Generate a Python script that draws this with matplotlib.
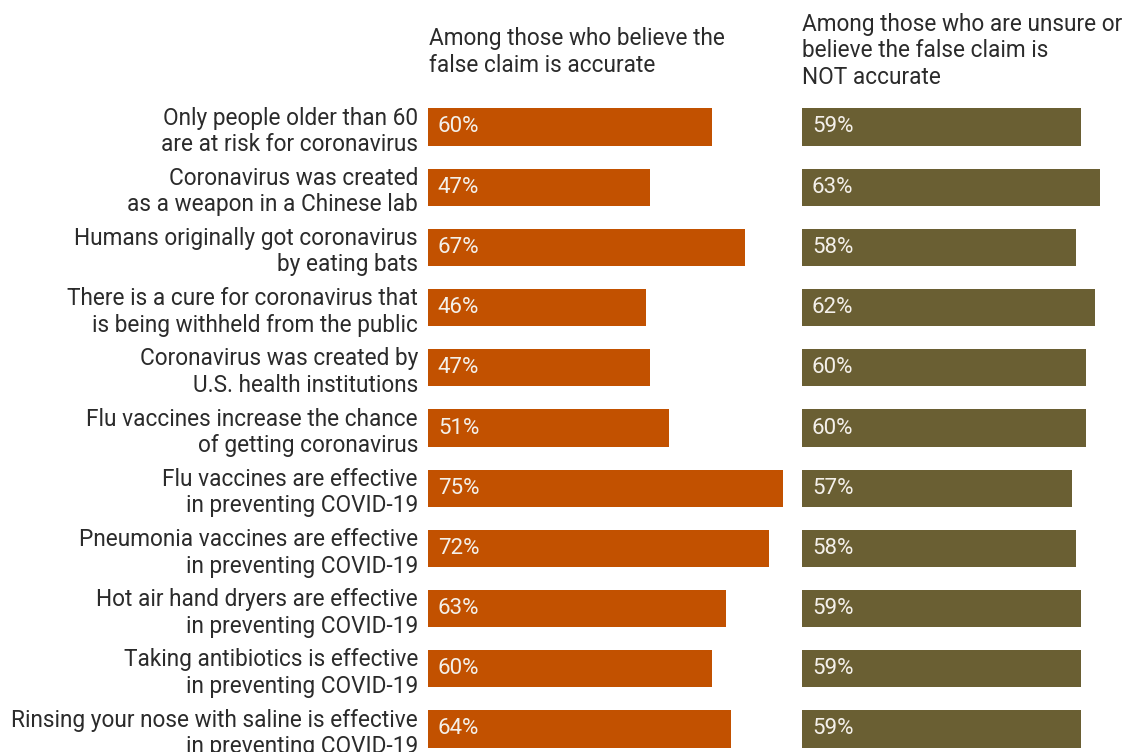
import matplotlib
matplotlib.use("Agg")
import matplotlib.pyplot as plt

plt.rcParams['font.family'] = ['Roboto', 'DejaVu Sans']

claims = [
    "Only people older than 60\nare at risk for coronavirus",
    "Coronavirus was created\nas a weapon in a Chinese lab",
    "Humans originally got coronavirus\nby eating bats",
    "There is a cure for coronavirus that\nis being withheld from the public",
    "Coronavirus was created by\nU.S. health institutions",
    "Flu vaccines increase the chance\nof getting coronavirus",
    "Flu vaccines are effective\nin preventing COVID-19",
    "Pneumonia vaccines are effective\nin preventing COVID-19",
    "Hot air hand dryers are effective\nin preventing COVID-19",
    "Taking antibiotics is effective\nin preventing COVID-19",
    "Rinsing your nose with saline is effective\nin preventing COVID-19",
]
believe_pct = [60, 47, 67, 46, 47, 51, 75, 72, 63, 60, 64]
unsure_pct = [59, 63, 58, 62, 60, 60, 57, 58, 59, 59, 59]

header_left = "Among those who believe the\nfalse claim is accurate"
header_right = "Among those who are unsure or\nbelieve the false claim is\nNOT accurate"

W, H = 1133, 752
fig = plt.figure(figsize=(W / 100, H / 100), dpi=100)

px_per_pct = 4.73
row_top, row_step = 127, 60.2
ax_top, ax_bot = 97, H
txt = "#2B2B2B"
fs = 16.3


def make_ax(x0, x1):
    ax = fig.add_axes([x0 / W, 1 - ax_bot / H, (x1 - x0) / W, (ax_bot - ax_top) / H])
    ax.set_xlim(0, (x1 - x0) / px_per_pct)
    ax.set_ylim((ax_bot - row_top) / row_step, (ax_top - row_top) / row_step)
    for s in ax.spines.values():
        s.set_visible(False)
    ax.tick_params(length=0)
    ax.set_xticks([])
    return ax


ax1 = make_ax(428, 792)
ax2 = make_ax(802, W)
rows = list(range(len(claims)))

for ax, vals, col in [(ax1, believe_pct, "#C25100"), (ax2, unsure_pct, "#6A5F33")]:
    ax.barh(rows, vals, height=0.615, color=col, edgecolor="none")
    for i, v in zip(rows, vals):
        ax.text(2.1, i, f"{v}%", color="#F4F0EA", fontsize=16, va="center", ha="left")
    ax.set_yticks([])

ax1.set_yticks(rows)
ax1.set_yticklabels(claims, fontsize=fs, color=txt, linespacing=1.2)
ax1.tick_params(axis="y", pad=7.2)

fig.text(429 / W, 1 - 72 / H, header_left, fontsize=fs, color=txt,
         ha="left", va="baseline", linespacing=1.2)
fig.text(802 / W, 1 - 84 / H, header_right, fontsize=fs, color=txt,
         ha="left", va="baseline", linespacing=1.2)

fig.savefig("out.png", dpi=100)
